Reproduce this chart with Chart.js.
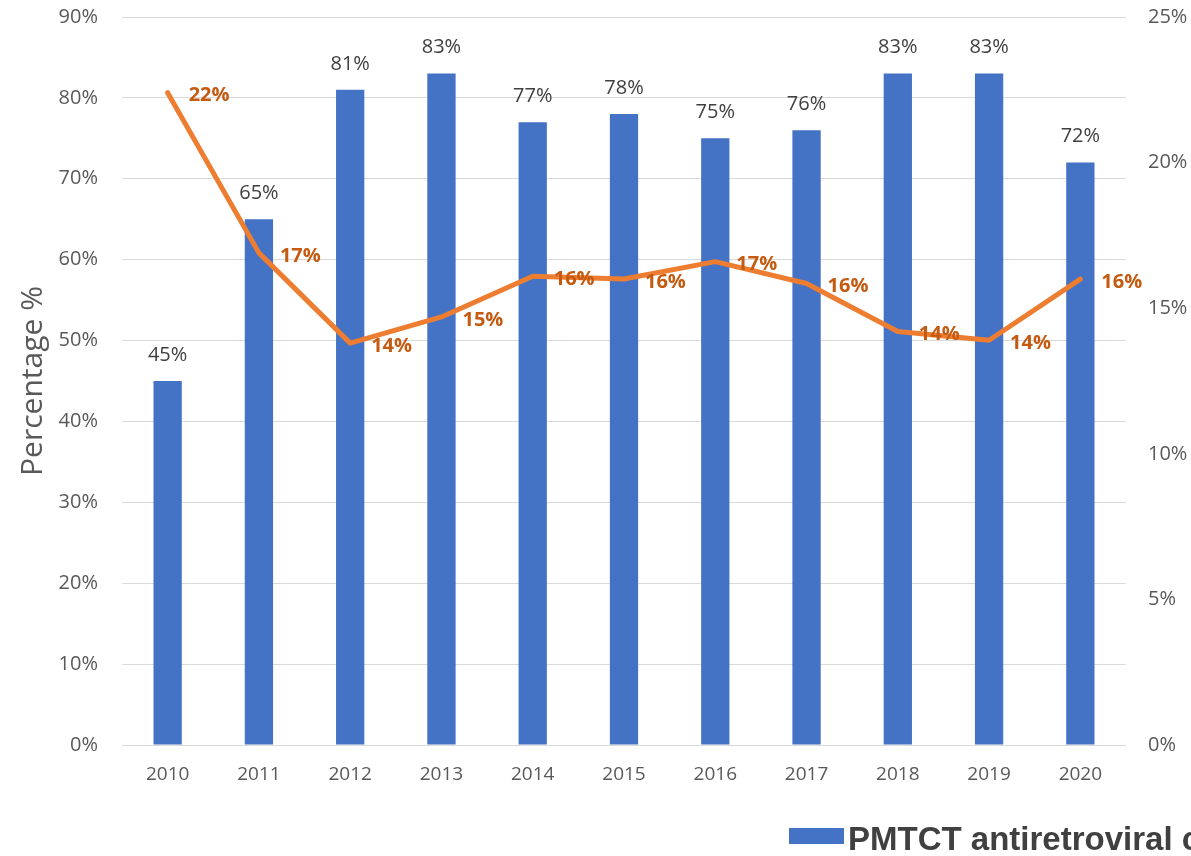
<!DOCTYPE html>
<html>
<head>
<meta charset="utf-8">
<script src="https://cdn.jsdelivr.net/npm/chart.js@4/dist/chart.umd.min.js"></script>
<style>
  html, body { margin: 0; padding: 0; background: #ffffff; }
  #wrap { width: 1191px; height: 856px; position: relative; }
</style>
</head>
<body>
<div id="wrap"><canvas id="chart" width="1191" height="856"></canvas></div>
<script>
// Years on the category axis
const years = ['2010', '2011', '2012', '2013', '2014', '2015', '2016', '2017', '2018', '2019', '2020'];
// PMTCT antiretroviral coverage (%), left axis
const coverage = [45, 65, 81, 83, 77, 78, 75, 76, 83, 83, 72];
// Second series (%), right axis
const transmission = [22.4, 16.9, 13.8, 14.7, 16.1, 16.0, 16.6, 15.85, 14.2, 13.9, 16.0];
// Axis ticks
const leftTicks = [0, 10, 20, 30, 40, 50, 60, 70, 80, 90];
const rightTicks = [0, 5, 10, 15, 20, 25];
const legendText = 'PMTCT antiretroviral coverage';

const FONT = "'Open Sans', 'Noto Sans', sans-serif";

// Value labels: bars get centred labels above, line points get bold labels to the right
const valueLabels = {
  id: 'valueLabels',
  afterDatasetsDraw(chart) {
    const ctx = chart.ctx;
    ctx.save();
    const barMeta = chart.getDatasetMeta(0);
    ctx.font = "20px " + FONT;
    ctx.fillStyle = '#404040';
    ctx.textAlign = 'center';
    ctx.textBaseline = 'middle';
    barMeta.data.forEach((el, i) => {
      ctx.fillText(Math.round(coverage[i]) + '%', el.x, el.y - 26);
    });
    const lineMeta = chart.getDatasetMeta(1);
    ctx.font = "bold 20px " + FONT;
    ctx.fillStyle = '#C55A11';
    ctx.textAlign = 'left';
    lineMeta.data.forEach((el, i) => {
      ctx.fillText(Math.round(transmission[i]) + '%', el.x + 21, el.y + 3);
    });
    ctx.restore();
  }
};

// Bottom legend, drawn slightly soft and running past the right edge
const bottomLegend = {
  id: 'bottomLegend',
  afterDraw(chart) {
    const ctx = chart.ctx;
    ctx.save();
    ctx.filter = 'blur(0.7px)';
    ctx.fillStyle = '#4472C4';
    ctx.fillRect(789, 828, 55, 16);
    ctx.font = "bold 33px 'Liberation Sans', Arial, sans-serif";
    ctx.fillStyle = '#404040';
    ctx.textAlign = 'left';
    ctx.textBaseline = 'alphabetic';
    ctx.fillText(legendText, 848, 850);
    ctx.restore();
  }
};

// Keep the plot area top fixed regardless of tick padding
function fixVertical(width) {
  return function (scale) {
    scale.width = width;
    scale.paddingTop = 17;
    scale.paddingBottom = 0;
  };
}

new Chart(document.getElementById('chart'), {
  data: {
    labels: years,
    datasets: [
      {
        type: 'bar',
        label: legendText,
        data: coverage,
        backgroundColor: '#4472C4',
        borderWidth: 0,
        barPercentage: 0.31,
        categoryPercentage: 1.0,
        yAxisID: 'y',
        order: 2
      },
      {
        type: 'line',
        label: 'Rate',
        data: transmission,
        borderColor: '#ED7D31',
        borderWidth: 5,
        borderCapStyle: 'round',
        borderJoinStyle: 'round',
        pointRadius: 0,
        tension: 0,
        fill: false,
        yAxisID: 'y1',
        order: 1
      }
    ]
  },
  options: {
    responsive: false,
    animation: false,
    devicePixelRatio: 1,
    layout: { padding: 0 },
    plugins: {
      legend: { display: false },
      tooltip: { enabled: false }
    },
    scales: {
      x: {
        grid: { display: false, drawTicks: false },
        border: { display: false },
        ticks: { color: '#595959', font: { family: FONT, size: 19 }, padding: 18 },
        afterFit(scale) { scale.height = 111; }
      },
      y: {
        position: 'left',
        min: 0, max: 90,
        afterBuildTicks(scale) { scale.ticks = leftTicks.map(v => ({ value: v })); },
        grid: { color: '#D9D9D9', lineWidth: 1, drawTicks: false },
        border: { display: false },
        ticks: {
          color: '#595959', font: { family: FONT, size: 20 }, padding: 24,
          callback: v => v + '%'
        },
        title: {
          display: true, text: 'Percentage %', color: '#595959',
          font: { family: FONT, size: 30 }, padding: { top: 15, bottom: 0 }
        },
        afterFit: fixVertical(122)
      },
      y1: {
        position: 'right',
        min: 0, max: 25,
        afterBuildTicks(scale) { scale.ticks = rightTicks.map(v => ({ value: v })); },
        grid: { display: false, drawTicks: false },
        border: { display: false },
        ticks: {
          color: '#595959', font: { family: FONT, size: 20 }, padding: 22,
          callback: v => v + '%'
        },
        afterFit: fixVertical(65)
      }
    }
  },
  plugins: [valueLabels, bottomLegend]
});
</script>
</body>
</html>
